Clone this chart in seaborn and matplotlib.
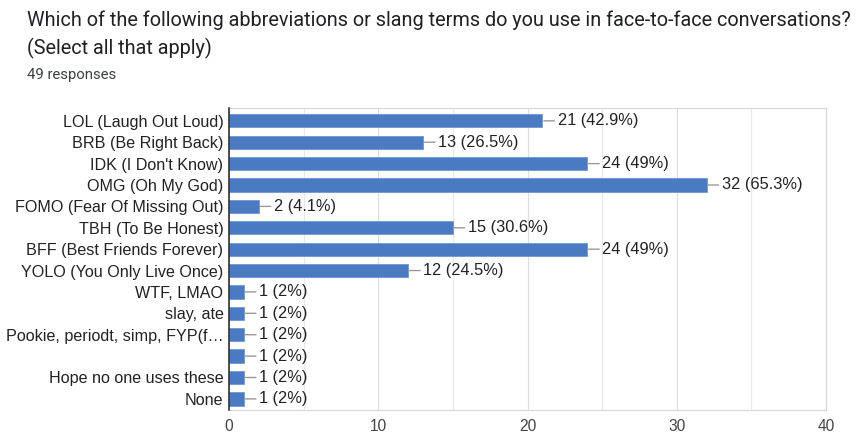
import matplotlib
matplotlib.use("Agg")
import matplotlib.pyplot as plt
import seaborn as sns
import pandas as pd
from matplotlib.ticker import MultipleLocator

# Survey answers and counts
categories = [
    "LOL (Laugh Out Loud)",
    "BRB (Be Right Back)",
    "IDK (I Don't Know)",
    "OMG (Oh My God)",
    "FOMO (Fear Of Missing Out)",
    "TBH (To Be Honest)",
    "BFF (Best Friends Forever)",
    "YOLO (You Only Live Once)",
    "WTF, LMAO",
    "slay, ate",
    "Pookie, periodt, simp, FYP(f\u2026",
    "",
    "Hope no one uses these",
    "None",
]
counts = [21, 13, 24, 32, 2, 15, 24, 12, 1, 1, 1, 1, 1, 1]
total_responses = 49
x_ticks = [0, 10, 20, 30, 40]

title = ("Which of the following abbreviations or slang terms do you use in face-to-face conversations?\n"
         "(Select all that apply)")
subtitle = f"{total_responses} responses"

sns.set_theme(style="white")
plt.rcParams["font.family"] = ["Liberation Sans", "DejaVu Sans"]

df = pd.DataFrame({"answer": categories, "count": counts})

fig = plt.figure(figsize=(8.66, 4.37), dpi=100)
ax = fig.add_axes([229 / 866, 1 - 410 / 437, (826 - 229) / 866, (410 - 108) / 437])

bar_color = "#4a7bc2"
sns.barplot(data=df, x="count", y="answer", order=categories, orient="h",
            color=bar_color, saturation=1, width=0.62, ax=ax,
            edgecolor="#6f97d3", linewidth=0.6, zorder=3)

ax.set_xlim(0, 40)
ax.set_ylim(len(categories) - 0.5 + 0.02, -0.6)
ax.xaxis.set_minor_locator(MultipleLocator(5))
ax.set_xticks(x_ticks)
ax.grid(which="major", axis="x", color="#dddddd", lw=0.8, zorder=0)
ax.grid(which="minor", axis="x", color="#e8e8e8", lw=0.8, zorder=0)
ax.set_xlabel("")
ax.set_ylabel("")

ax.tick_params(axis="x", which="both", length=0, pad=6.5, labelsize=11.2, labelcolor="#444444")
ax.tick_params(axis="y", length=0, pad=4, labelsize=11.6, labelcolor="#222222")

for side in ("top", "right", "bottom"):
    ax.spines[side].set_color("#d6d6d6")
    ax.spines[side].set_linewidth(0.8)
ax.spines["left"].set_color("#222222")
ax.spines["left"].set_linewidth(1.1)
ax.spines["left"].set_zorder(5)


def pct_text(n):
    p = round(100 * n / total_responses, 1)
    s = f"{p:.1f}".rstrip("0").rstrip(".")
    return f"{n} ({s}%)"


for i, n in enumerate(counts):
    ax.annotate(pct_text(n), xy=(n, i), xytext=(11, 0), textcoords="offset points",
                ha="left", va="center", fontsize=11.8, color="#222222",
                arrowprops=dict(arrowstyle="-", color="#9a9a9a", lw=1.0,
                                shrinkA=0, shrinkB=1),
                annotation_clip=False, zorder=4)

fig.text(27 / 866, 1 - 10 / 437, title, ha="left", va="top", fontsize=14.35,
         family=["Roboto", "DejaVu Sans"], color="#202124", linespacing=1.5)
fig.text(27 / 866, 1 - 75 / 437, subtitle, ha="left", va="center", fontsize=10.7,
         family=["Roboto", "DejaVu Sans"], color="#3c4043")

fig.savefig("out.png", dpi=100, facecolor="white")
